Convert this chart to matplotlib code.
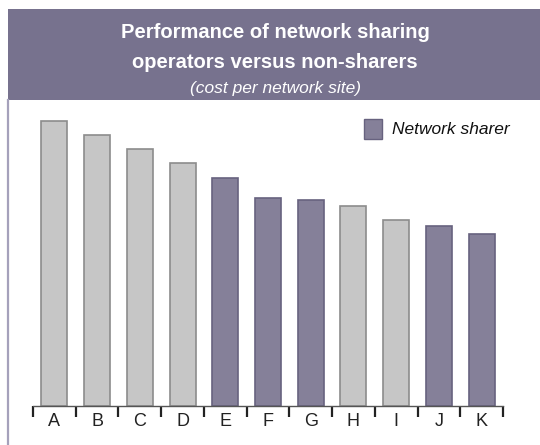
import matplotlib.pyplot as plt
import matplotlib.patches as patches
from matplotlib.ticker import FixedLocator

plt.rcParams['font.family'] = ['Liberation Sans', 'DejaVu Sans']

categories = ['A', 'B', 'C', 'D', 'E', 'F', 'G', 'H', 'I', 'J', 'K']
cost_per_site = [285, 271, 257, 243, 228, 208, 206, 200, 186, 180, 172]
is_sharer = [False, False, False, False, True, True, True, False, False, True, True]

grey_fill = '#c6c6c6'
grey_edge = '#8c8c8c'
purple_fill = '#858099'
purple_edge = '#67627f'
header_color = '#77728e'
frame_color = '#a5a1bb'

W, H = 540, 445
fig = plt.figure(figsize=(W / 100, H / 100), dpi=100)

# header box and the thin frame line on the left
fig.patches.append(patches.Rectangle((8 / W, (H - 100) / H), (W - 8) / W, 91 / H,
                                     transform=fig.transFigure, facecolor=header_color,
                                     edgecolor='none', zorder=0))
fig.lines.append(plt.Line2D([8 / W, 8 / W], [0, (H - 100) / H], transform=fig.transFigure,
                            color=frame_color, linewidth=1.6))

fig.text(275 / W, 1 - 33 / H, 'Performance of network sharing', color='white',
         fontsize=14.5, fontweight='bold', ha='center', va='center')
fig.text(275 / W, 1 - 62 / H, 'operators versus non-sharers', color='white',
         fontsize=14.5, fontweight='bold', ha='center', va='center')
fig.text(275 / W, 1 - 88 / H, '(cost per network site)', color='white',
         fontsize=12.5, style='italic', ha='center', va='center')

# plot area: x from 33 to 503 px, baseline at y=406 px
ax = fig.add_axes([33 / W, 39 / H, 470 / W, 306 / H])
x = list(range(len(categories)))
colors = [purple_fill if s else grey_fill for s in is_sharer]
edges = [purple_edge if s else grey_edge for s in is_sharer]
ax.bar(x, cost_per_site, width=0.61, color=colors, edgecolor=edges, linewidth=1.2, zorder=2)

ax.set_xlim(-0.5, len(categories) - 0.5)
ax.set_ylim(0, 306)
for s in ['top', 'right', 'left']:
    ax.spines[s].set_visible(False)
ax.spines['bottom'].set_color('#555555')
ax.spines['bottom'].set_linewidth(1.0)
ax.set_yticks([])
ax.set_xticks(x)
ax.set_xticklabels(categories, fontsize=13)
ax.tick_params(axis='x', which='major', length=0, pad=5, colors='#222222')
ax.xaxis.set_minor_locator(FixedLocator([i - 0.5 for i in range(len(categories) + 1)]))
ax.tick_params(axis='x', which='minor', length=8, width=1.6, direction='out', color='#222222')
ax.patch.set_alpha(0)

# legend
fig.patches.append(patches.Rectangle((364 / W, 1 - 139 / H), 18 / W, 20 / H,
                                     transform=fig.transFigure, facecolor=purple_fill,
                                     edgecolor=purple_edge, linewidth=1.0))
fig.text(392 / W, 1 - 129 / H, 'Network sharer', fontsize=12.5, style='italic',
         color='#111111', ha='left', va='center')

fig.savefig('out.png', dpi=100)
